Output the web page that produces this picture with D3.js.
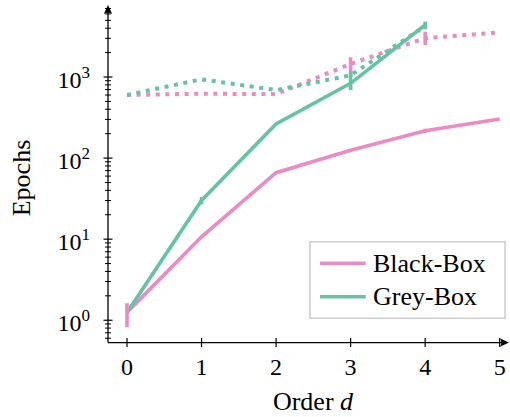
<!DOCTYPE html>
<html>
<head>
<meta charset="utf-8">
<script src="https://cdn.jsdelivr.net/npm/d3@7"></script>
<style>
  body { margin: 0; background: #fff; }
  svg { display: block; }
  text { font-family: "Liberation Serif", "DejaVu Serif", serif; fill: #000; }
</style>
</head>
<body>
<svg id="chart" width="510" height="417"></svg>
<script>
// values
var orders = [0, 1, 2, 3, 4, 5];
var blackBoxSolid = [1.25, 10.7, 66, 125, 217, 303];
var greyBoxSolid = [1.25, 30, 263, 836, 4400];
var blackBoxDotted = [600, 622, 615, 1450, 3020, 3560];
var greyBoxDotted = [600, 937, 690, 1050, 4250];

// error bars: [order, low, high]
var blackBoxSolidErr = [[0, 0.82, 1.62], [4, 205, 230]];
var greyBoxSolidErr = [[1, 27, 33], [3, 690, 1186], [4, 3880, 4820]];
var blackBoxDottedErr = [[3, 1009, 1750], [4, 2483, 3625]];

var yMajorTicks = [1, 10, 100, 1000];
var yExponents = ['0', '1', '2', '3'];
var legendLabels = ['Black-Box', 'Grey-Box'];

var pink = '#e98bc4';
var green = '#66c2a5';

var svg = d3.select('#chart');

var x = d3.scaleLinear().domain([0, 5]).range([127, 499.7]);
var y = d3.scaleLog().domain([0.53, 7000]).range([342.6, 8.5]);

var axisX0 = 108, axisY0 = 342.6;

// minor ticks on the log axis
var yMinorTicks = [];
[0.1, 1, 10, 100, 1000].forEach(function(base) {
  for (var k = 2; k <= 9; k++) {
    var v = base * k;
    if (v >= y.domain()[0] && v <= y.domain()[1]) yMinorTicks.push(v);
  }
});

var lineGen = d3.line()
  .x(function(d) { return x(d[0]); })
  .y(function(d) { return y(d[1]); });

function zipSeries(vals) {
  return vals.map(function(v, i) { return [orders[i], v]; });
}

var plot = svg.append('g');

function drawSeries(vals, color, dotted) {
  plot.append('path')
    .datum(zipSeries(vals))
    .attr('d', lineGen)
    .attr('fill', 'none')
    .attr('stroke', color)
    .attr('stroke-width', dotted ? 4 : 3.6)
    .attr('stroke-dasharray', dotted ? '4,5.6' : null)
    .attr('stroke-linejoin', 'miter');
}

function drawErrors(errs, color) {
  plot.selectAll(null)
    .data(errs)
    .enter()
    .append('line')
    .attr('x1', function(d) { return x(d[0]); })
    .attr('x2', function(d) { return x(d[0]); })
    .attr('y1', function(d) { return y(d[1]); })
    .attr('y2', function(d) { return y(d[2]); })
    .attr('stroke', color)
    .attr('stroke-width', 3.6);
}

drawSeries(blackBoxDotted, pink, true);
drawSeries(greyBoxDotted, green, true);
drawSeries(blackBoxSolid, pink, false);
drawSeries(greyBoxSolid, green, false);
drawErrors(blackBoxDottedErr, pink);
drawErrors(blackBoxSolidErr, pink);
drawErrors(greyBoxSolidErr, green);

// y axis
var yAxisG = svg.append('g').attr('transform', 'translate(' + axisX0 + ',0)');
yAxisG.append('line')
  .attr('x1', 0).attr('x2', 0)
  .attr('y1', axisY0).attr('y2', 12)
  .attr('stroke', '#000').attr('stroke-width', 1.3);
yAxisG.append('path')
  .attr('d', 'M0,5 L-4.2,14 Q0,11.5 4.2,14 Z')
  .attr('fill', '#000');

yAxisG.selectAll('.minor')
  .data(yMinorTicks)
  .enter()
  .append('line')
  .attr('class', 'minor')
  .attr('x1', -3).attr('x2', 3)
  .attr('y1', function(d) { return y(d); })
  .attr('y2', function(d) { return y(d); })
  .attr('stroke', '#000').attr('stroke-width', 1);

yAxisG.selectAll('.major')
  .data(yMajorTicks)
  .enter()
  .append('line')
  .attr('class', 'major')
  .attr('x1', -4.5).attr('x2', 4.5)
  .attr('y1', function(d) { return y(d); })
  .attr('y2', function(d) { return y(d); })
  .attr('stroke', '#000').attr('stroke-width', 1.2);

var yLabels = yAxisG.selectAll('.ylab')
  .data(yMajorTicks)
  .enter()
  .append('text')
  .attr('class', 'ylab')
  .attr('text-anchor', 'end')
  .attr('x', -18)
  .attr('y', function(d) { return y(d) + 10.5; })
  .style('font-size', '24px');
yLabels.append('tspan').text('10');
yLabels.append('tspan')
  .attr('dy', -10)
  .style('font-size', '17px')
  .text(function(d, i) { return yExponents[i]; });

// x axis
var xAxisG = svg.append('g').attr('transform', 'translate(0,' + axisY0 + ')');
xAxisG.append('line')
  .attr('x1', axisX0).attr('x2', 502)
  .attr('y1', 0).attr('y2', 0)
  .attr('stroke', '#000').attr('stroke-width', 1.3);
xAxisG.append('path')
  .attr('d', 'M509,0 L500,-4.2 Q502.5,0 500,4.2 Z')
  .attr('fill', '#000');

xAxisG.selectAll('.xtick')
  .data(orders)
  .enter()
  .append('line')
  .attr('class', 'xtick')
  .attr('x1', function(d) { return x(d); })
  .attr('x2', function(d) { return x(d); })
  .attr('y1', -4.5).attr('y2', 4.5)
  .attr('stroke', '#000').attr('stroke-width', 1.2);

xAxisG.selectAll('.xlab')
  .data(orders)
  .enter()
  .append('text')
  .attr('class', 'xlab')
  .attr('text-anchor', 'middle')
  .attr('x', function(d) { return x(d); })
  .attr('y', 32)
  .style('font-size', '24px')
  .text(function(d) { return d; });

// axis titles
var xTitle = svg.append('text')
  .attr('x', 313)
  .attr('y', 410)
  .attr('text-anchor', 'middle')
  .style('font-size', '26px');
xTitle.append('tspan').text('Order ');
xTitle.append('tspan').style('font-style', 'italic').text('d');

svg.append('text')
  .attr('transform', 'translate(30,178) rotate(-90)')
  .attr('text-anchor', 'middle')
  .style('font-size', '26px')
  .text('Epochs');

// legend
var legend = svg.append('g');
legend.append('rect')
  .attr('x', 310).attr('y', 241.7)
  .attr('width', 195).attr('height', 76.6)
  .attr('fill', '#fff').attr('fill-opacity', 0.85)
  .attr('stroke', '#cccccc').attr('stroke-width', 1.5);

var legendColors = [pink, green];
var legendRows = legend.selectAll('.row')
  .data(legendLabels)
  .enter()
  .append('g')
  .attr('class', 'row')
  .attr('transform', function(d, i) { return 'translate(0,' + (263.3 + i * 33.4) + ')'; });
legendRows.append('line')
  .attr('x1', 320).attr('x2', 365.7)
  .attr('y1', 0).attr('y2', 0)
  .attr('stroke', function(d, i) { return legendColors[i]; })
  .attr('stroke-width', 3.6);
legendRows.append('text')
  .attr('x', 373)
  .attr('y', 8.5)
  .style('font-size', '26px')
  .text(function(d) { return d; });
</script>
</body>
</html>
